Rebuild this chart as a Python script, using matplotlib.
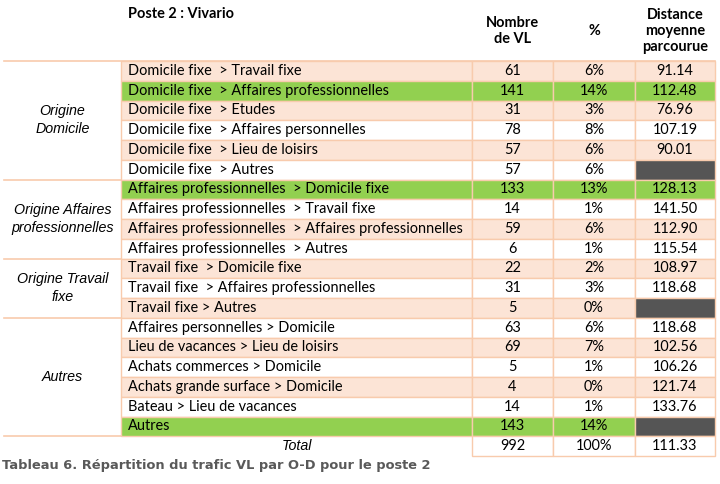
import matplotlib.pyplot as plt
from matplotlib.patches import Rectangle

# data
groups = ["Origine\nDomicile", "Origine Affaires\nprofessionnelles",
          "Origine Travail\nfixe", "Autres"]
group_sizes = [6, 4, 3, 6]
labels = [
    "Domicile fixe  > Travail fixe",
    "Domicile fixe  > Affaires professionnelles",
    "Domicile fixe  > Etudes",
    "Domicile fixe  > Affaires personnelles",
    "Domicile fixe  > Lieu de loisirs",
    "Domicile fixe  > Autres",
    "Affaires professionnelles  > Domicile fixe",
    "Affaires professionnelles  > Travail fixe",
    "Affaires professionnelles  > Affaires professionnelles",
    "Affaires professionnelles  > Autres",
    "Travail fixe  > Domicile fixe",
    "Travail fixe  > Affaires professionnelles",
    "Travail fixe > Autres",
    "Affaires personnelles > Domicile",
    "Lieu de vacances > Lieu de loisirs",
    "Achats commerces > Domicile",
    "Achats grande surface > Domicile",
    "Bateau > Lieu de vacances",
    "Autres",
]
counts = [61, 141, 31, 78, 57, 57, 133, 14, 59, 6, 22, 31, 5, 63, 69, 5, 4, 14, 143]
pcts = ["6%", "14%", "3%", "8%", "6%", "6%", "13%", "1%", "6%", "1%",
        "2%", "3%", "0%", "6%", "7%", "1%", "0%", "1%", "14%"]
distances = [91.14, 112.48, 76.96, 107.19, 90.01, None, 128.13, 141.50, 112.90,
             115.54, 108.97, 118.68, None, 118.68, 102.56, 106.26, 121.74,
             133.76, None]
highlight = [1, 6, 18]
total_count, total_pct, total_dist = 992, "100%", 111.33

# layout (pixel units)
W, H = 720, 484
col_x = [4, 121, 472, 553, 635, 715]
top = 61
rh = 19.75
peach = "#FCE4D6"
green = "#92D050"
dark = "#555555"
edge = "#F8CBAD"

fig = plt.figure(figsize=(7.2, 4.84), dpi=100)
ax = fig.add_axes([0, 0, 1, 1])
ax.set_xlim(0, W)
ax.set_ylim(H, 0)
ax.axis("off")
plt.rcParams["font.family"] = ["Lato", "DejaVu Sans"]
fs = 10.45
ital = dict(family="Liberation Sans", style="italic", fontsize=10.3)

for i, lab in enumerate(labels):
    y0 = top + i * rh
    if i in highlight:
        fc = green
    elif i % 2 == 0:
        fc = peach
    else:
        fc = "white"
    for c in range(1, 5):
        cfc = fc
        if c == 4 and distances[i] is None:
            cfc = dark
        ax.add_patch(Rectangle((col_x[c], y0), col_x[c + 1] - col_x[c], rh,
                               facecolor=cfc, edgecolor=edge, lw=1))
    ym = y0 + rh / 2
    ax.text(col_x[1] + 7, ym, lab, fontsize=fs, va="center", ha="left")
    ax.text((col_x[2] + col_x[3]) / 2, ym, str(counts[i]), fontsize=fs,
            va="center", ha="center")
    ax.text((col_x[3] + col_x[4]) / 2, ym, pcts[i], fontsize=fs,
            va="center", ha="center")
    if distances[i] is not None:
        ax.text((col_x[4] + col_x[5]) / 2, ym, f"{distances[i]:.2f}",
                fontsize=fs, va="center", ha="center")

# group column
start = 0
ax.plot([col_x[0], col_x[5]], [top, top], color=edge, lw=1.2)
for g, n in zip(groups, group_sizes):
    y0 = top + start * rh
    y1 = top + (start + n) * rh
    ax.text((col_x[0] + col_x[1]) / 2, (y0 + y1) / 2, g,
            ha="center", va="center", linespacing=1.35, **ital)
    ax.plot([col_x[0], col_x[1]], [y1, y1], color=edge, lw=1.2)
    start += n

# total row
yt = top + len(labels) * rh
for c in range(2, 5):
    ax.add_patch(Rectangle((col_x[c], yt), col_x[c + 1] - col_x[c], rh,
                           facecolor="white", edgecolor=edge, lw=1))
ym = yt + rh / 2
ax.text((col_x[1] + col_x[2]) / 2, ym, "Total", ha="center", va="center",
        **ital)
ax.text((col_x[2] + col_x[3]) / 2, ym, str(total_count), fontsize=fs,
        ha="center", va="center")
ax.text((col_x[3] + col_x[4]) / 2, ym, total_pct, fontsize=fs,
        ha="center", va="center")
ax.text((col_x[4] + col_x[5]) / 2, ym, f"{total_dist:.2f}", fontsize=fs,
        ha="center", va="center")

# header
ax.text(128, 14, "Poste 2 : Vivario", fontsize=fs, weight="bold",
        ha="left", va="center")
ax.text((col_x[2] + col_x[3]) / 2, 31, "Nombre\nde VL", fontsize=fs,
        weight="bold", ha="center", va="center", linespacing=1.2)
ax.text((col_x[3] + col_x[4]) / 2, 31, "%", fontsize=fs, weight="bold",
        ha="center", va="center")
ax.text((col_x[4] + col_x[5]) / 2, 31, "Distance\nmoyenne\nparcourue",
        fontsize=fs, weight="bold", ha="center", va="center", linespacing=1.2)

# caption
ax.text(2, 466, "Tableau 6. Répartition du trafic VL par O-D pour le poste 2",
        fontsize=9.35, weight="bold", color="#595959", family="DejaVu Sans",
        ha="left", va="center")

plt.savefig("out.png", dpi=100)
plt.close()
